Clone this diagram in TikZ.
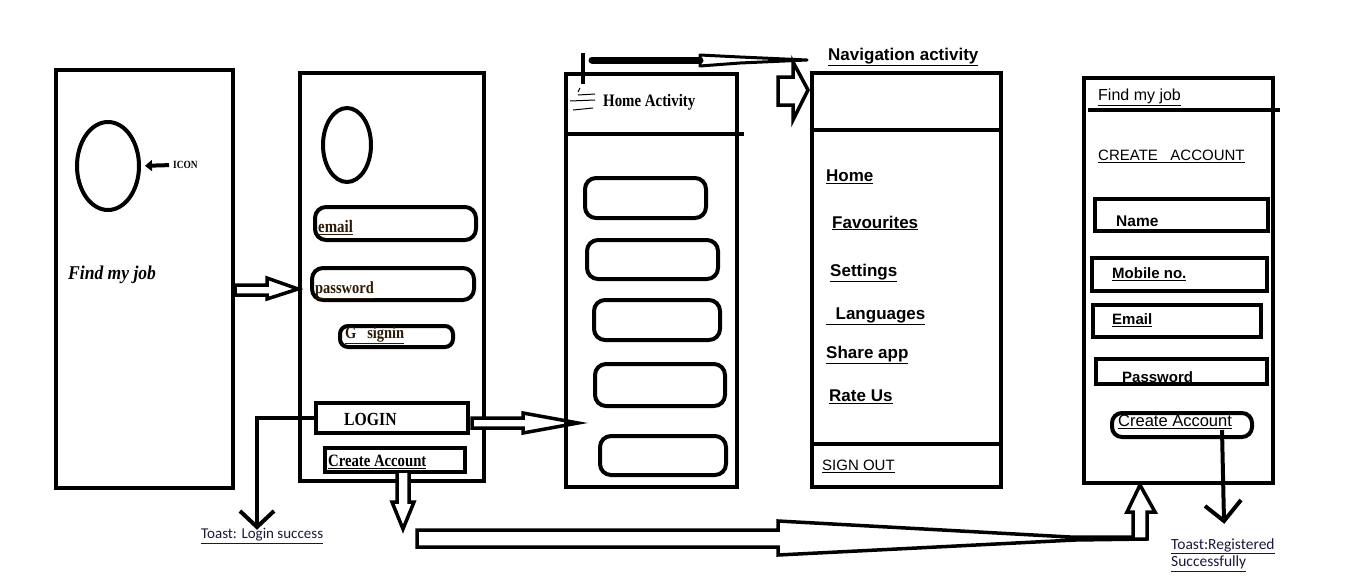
\documentclass[tikz,border=0pt]{standalone}
\usepackage{fontspec}
\setmainfont{Liberation Serif}
\setsansfont{Liberation Sans}
\newfontfamily\condserif[FakeStretch=0.85]{Liberation Serif}
\newfontfamily\splashserif[FakeStretch=0.9]{Liberation Serif}
\newfontfamily\arial{Liberation Sans}
\newfontfamily\calib{Carlito}
\usetikzlibrary{shapes.geometric,arrows.meta}
\definecolor{toastcol}{RGB}{25,25,60}
\definecolor{fldtxt}{RGB}{45,25,5}
\newcommand{\fsz}[1]{\fontsize{#1}{#1}\selectfont}
\tikzset{
  scr/.style={draw, line width=4pt, inner sep=0pt, outer sep=0pt},
  fld/.style={draw, line width=4pt, rounded corners=11pt, inner sep=0pt, outer sep=0pt},
  sqfld/.style={draw, line width=4pt, inner sep=0pt, outer sep=0pt},
  oval/.style={draw, ellipse, line width=4pt, inner sep=0pt, outer sep=0pt},
  hollow/.style={draw, line width=3.5pt, line join=miter, fill=white},
  heavy/.style={line width=4pt},
  lbl/.style={inner sep=0pt, anchor=west},
  navtxt/.style={lbl, font=\arial\bfseries\fsz{17}},
  cstxt/.style={lbl, font=\condserif\bfseries\fsz{17.5}, text=fldtxt},
  cabold/.style={lbl, font=\arial\bfseries\fsz{15}},
  toasttxt/.style={lbl, font=\calib\fsz{15}, text=toastcol, align=left},
}
\begin{document}
\begin{tikzpicture}[x=1pt,y=-1pt]
\useasboundingbox (0,0) rectangle (1360,576);

% ---------- Screen 1: splash ----------
\node[scr, minimum width=177, minimum height=418] (s1) at (144.5,279) {};
\node[oval, minimum width=62, minimum height=88] (ic1) at (108,166) {};
\node[lbl, font=\condserif\bfseries\fsz{11}] (icon) at (173,165) {ICON};
\draw[heavy, -{Triangle[length=7pt,width=11pt]}, shorten <=4pt, shorten >=6pt] (icon.west) -- (ic1.east);
\node[lbl, font=\splashserif\bfseries\itshape\fsz{19.5}] (fmj1) at (68,275) {Find my job};

% arrow screen1 -> screen2
\coordinate (a1s) at (235,290);
\coordinate (a1e) at (298,289);
\draw[hollow] (a1s) ++(0,-5) -- (267,285) -- (267,278) -- (a1e) -- (267,299) -- (267,295) -- (235,295) -- cycle;

% ---------- Screen 2: login ----------
\node[scr, minimum width=184, minimum height=408] (s2) at (392,277) {};
\node[oval, minimum width=48, minimum height=74] (ic2) at (347,145) {};
\node[fld, minimum width=161, minimum height=33] (femail) at (395.5,223.5) {};
\node[cstxt] (temail) at (318,228) {\underline{email}};
\node[fld, minimum width=162, minimum height=32] (fpass) at (393,284) {};
\node[cstxt, font=\condserif\bfseries\fsz{17}] (tpass) at (315,290) {\underline{password}};
\node[fld, rounded corners=8pt, minimum width=113, minimum height=21] (fg) at (396.5,336.5) {};
\node[cstxt, font=\condserif\bfseries\fsz{17}] (tg) at (345,335) {\underline{G\ \ \ signin}};
\node[sqfld, minimum width=152, minimum height=30] (login) at (392,418) {};
\node[lbl, font=\condserif\bfseries\fsz{18.5}] (tlogin) at (344,419) {LOGIN};
\node[sqfld, minimum width=140, minimum height=24] (cacc) at (395,460) {};
\node[lbl, font=\condserif\bfseries\fsz{17.3}] (tcacc) at (328,462) {\underline{Create Account}};

% LOGIN -> toast
\node[toasttxt] (toast1) at (201,536) {\underline{Toast: Login success}};
\coordinate (t1tip) at (257,527);
\draw[heavy] (login.west) -| (t1tip);
\draw[heavy, line join=miter] (240,511) -- (t1tip) -- (274,511);

% LOGIN -> home (hollow)
\coordinate (a2e) at (578,423);
\draw[hollow] (472,418) -- (523,418) -- (523,413) -- (a2e) -- (523,433) -- (523,428) -- (472,428) -- cycle;

% Create account -> down (hollow)
\coordinate (a3e) at (403,529);
\draw[hollow] (397,473) -- (397,502) -- (392,502) -- (a3e) -- (414,502) -- (409,502) -- (409,473);

% long bottom arrow to registration screen
\coordinate (a4e) at (1140,485);
\draw[hollow] (417,530) -- (778,530) -- (778,521) -- (1070,537) -- (1133,537) -- (1133,512) -- (1127,512) -- (a4e) -- (1155,512) -- (1147,512) -- (1147,539) -- (1075,540) -- (778,555) -- (778,547) -- (417,547) -- cycle;

% ---------- Screen 3: home ----------
\node[scr, minimum width=171, minimum height=413] (s3) at (651.5,280.5) {};
\draw[heavy] (s3.west |- 0,134) -- (744,134);
\draw[line width=1pt] (580,88) -- (578,92) (578,95) -- (595,94) (570,101) -- (595,100) (573,110) -- (593,108);
\node[lbl, font=\condserif\bfseries\fsz{17.5}] (thome) at (603,102) {Home Activity};
\node[fld, minimum width=121, minimum height=40] (h1) at (645.5,198) {};
\node[fld, minimum width=131, minimum height=39] (h2) at (652.5,259.5) {};
\node[fld, minimum width=126, minimum height=40] (h3) at (657,320) {};
\node[fld, minimum width=130, minimum height=42] (h4) at (660,385) {};
\node[fld, minimum width=126, minimum height=39] (h5) at (663,455.5) {};

% menu -> navigation
\coordinate (mtop) at (583,53);
\coordinate (mbot) at (583,84);
\draw[heavy] (mtop) -- (mbot);
\draw[line width=7pt, line cap=round] (592,60) -- (700,60);
\draw[line width=3pt, line join=round] (700,55) -- (740,57) -- (807,60) -- (740,63) -- (700,66) -- cycle;
\coordinate (a5e) at (808,90);
\draw[hollow] (793,62) -- (a5e) -- (793,120) -- (793,105) -- (778,105) -- (778,77) -- (793,77) -- cycle;

% ---------- Screen 4: navigation ----------
\node[navtxt] (tnav) at (828,57) {\underline{Navigation activity}};
\node[scr, minimum width=189, minimum height=414] (s4) at (906.5,280) {};
\draw[heavy] (s4.west |- 0,130) -- (s4.east |- 0,130);
\draw[heavy] (s4.west |- 0,444) -- (s4.east |- 0,444);
\node[navtxt] (n1) at (826,177) {\underline{Home}};
\node[navtxt] (n2) at (832,223) {\underline{Favourites}};
\node[navtxt] (n3) at (830,273) {\underline{Settings}};
\node[navtxt] (n4) at (826,316) {\underline{\ \ Languages}};
\node[navtxt] (n5) at (826,355) {\underline{Share app}};
\node[navtxt] (n6) at (829,397) {\underline{Rate Us}};
\node[lbl, font=\arial\fsz{15}] (n7) at (822,466) {\underline{SIGN OUT}};

% ---------- Screen 5: create account ----------
\node[scr, minimum width=189, minimum height=405] (s5) at (1178,280) {};
\draw[heavy] (1088,110) -- (1280,110);
\node[lbl, font=\arial\fsz{16}] (fmj5) at (1098,97) {\underline{Find my job}};
\node[lbl, font=\arial\fsz{15}] (tca) at (1098,156) {\underline{CREATE\ \ \ ACCOUNT}};
\node[sqfld, minimum width=173, minimum height=32] (bname) at (1181.5,215) {};
\node[cabold, font=\arial\bfseries\fsz{15.5}] (tname) at (1116,221) {Name};
\node[sqfld, minimum width=175, minimum height=33] (bmob) at (1179.5,274.5) {};
\node[cabold] (tmob) at (1112,274) {\underline{Mobile no.}};
\node[sqfld, minimum width=168, minimum height=32] (bemail) at (1177,321) {};
\node[cabold] (temail5) at (1112,320) {\underline{Email}};
\node[sqfld, minimum width=171, minimum height=25] (bpass) at (1181.5,371.5) {};
\node[cabold] (tpass5) at (1122,377) {Password};
\node[fld, rounded corners=10pt, minimum width=140, minimum height=24] (bcreate) at (1182,425) {};
\node[lbl, font=\arial\fsz{16.5}] (tcreate) at (1118,422) {\underline{Create Account}};

% create -> toast registered
\node[toasttxt, font=\calib\fsz{15.5}] (toast2) at (1171,555) {\underline{Toast:Registered}\\[2pt]\underline{Successfully}};
\coordinate (t2tip) at (1224,521);
\draw[heavy] (1222,430) -- (t2tip);
\draw[heavy, line join=miter] (1205,506) -- (t2tip) -- (1241,500);
\end{tikzpicture}
\end{document}
